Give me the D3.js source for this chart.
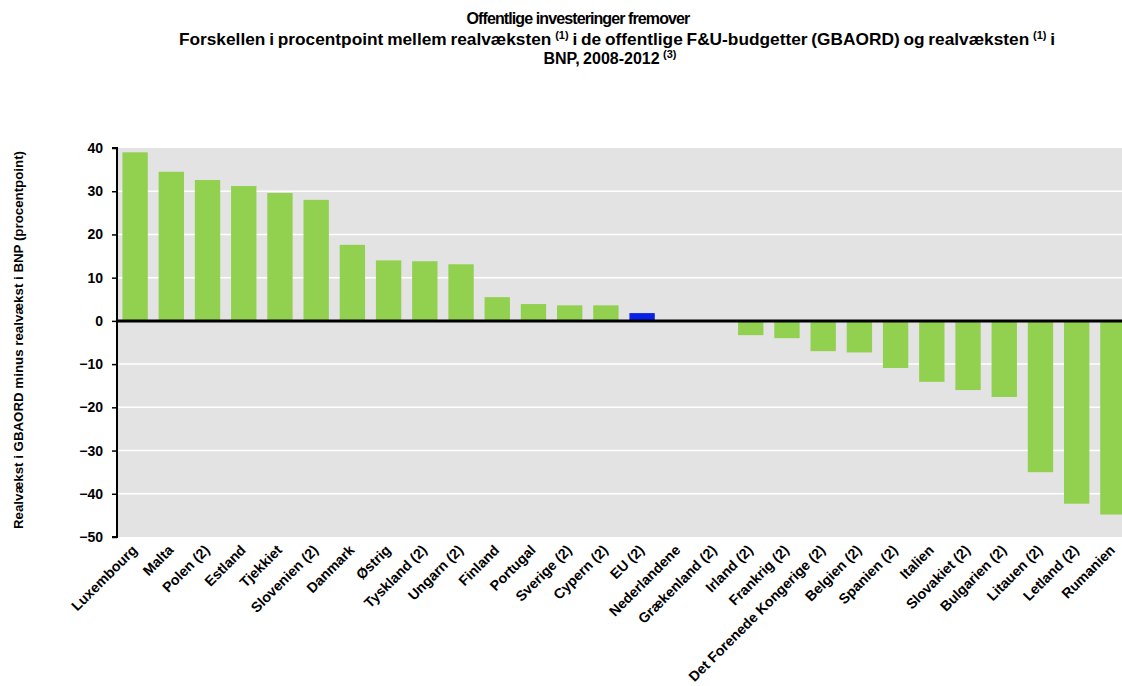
<!DOCTYPE html>
<html><head><meta charset="utf-8">
<script src="https://cdn.jsdelivr.net/npm/d3@7"></script>
<style>body{margin:0;background:#fff;} svg{display:block;font-family:"Liberation Sans",Arial,sans-serif;}</style>
</head><body>
<svg id="c" width="1122" height="686"></svg>
<script>
const categories = ["Luxembourg","Malta","Polen (2)","Estland","Tjekkiet","Slovenien (2)","Danmark","Østrig","Tyskland (2)","Ungarn (2)","Finland","Portugal","Sverige (2)","Cypern (2)","EU (2)","Nederlandene","Grækenland (2)","Irland (2)","Frankrig (2)","Det Forenede Kongerige (2)","Belgien (2)","Spanien (2)","Italien","Slovakiet (2)","Bulgarien (2)","Litauen (2)","Letland (2)","Rumanien"];
const values = [39.0,34.5,32.6,31.2,29.6,28.0,17.6,14.0,13.8,13.1,5.5,3.9,3.6,3.6,1.8,0,0,-3.3,-4.0,-7.0,-7.3,-10.9,-14.1,-16.0,-17.6,-35.0,-42.3,-44.8];
const highlight = ["EU (2)"];
const yTicks = [40,30,20,10,0,-10,-20,-30,-40,-50];

const svg = d3.select("#c");
const m = {left:117, top:148, right:1131, bottom:537};
const x = d3.scaleBand().domain(categories).range([m.left, m.right]).paddingInner(0.3).paddingOuter(0.15);
const y = d3.scaleLinear().domain([-50,40]).range([m.bottom, m.top]);

svg.append("rect").attr("x",m.left).attr("y",m.top).attr("width",m.right-m.left).attr("height",m.bottom-m.top).attr("fill","#e3e3e3");
svg.append("g").selectAll("line").data(yTicks.filter(d=>d!==0 && d!==-50 && d!==40)).join("line")
  .attr("x1",m.left).attr("x2",m.right).attr("y1",d=>y(d)).attr("y2",d=>y(d)).attr("stroke","#fff").attr("stroke-width",1.5);

svg.append("g").selectAll("rect").data(categories).join("rect")
  .attr("x",d=>x(d)).attr("width",x.bandwidth())
  .attr("y",(d,i)=>y(Math.max(0,values[i]))).attr("height",(d,i)=>Math.abs(y(values[i])-y(0)))
  .attr("fill",d=>highlight.includes(d)?"#0a1fe8":"#92d050");

svg.append("line").attr("x1",m.left).attr("x2",m.right).attr("y1",y(0)).attr("y2",y(0)).attr("stroke","#000").attr("stroke-width",3);

const ya = svg.append("g").attr("transform",`translate(${m.left},0)`)
  .call(d3.axisLeft(y).tickValues(yTicks).tickSize(5).tickPadding(9).tickFormat(d3.format("d")));
ya.select(".domain").attr("stroke","#000").attr("stroke-width",2).attr("d",`M-5,${m.top}H0V${m.bottom}H-5`);
ya.selectAll(".tick line").attr("stroke","#000").attr("stroke-width",1.5);
ya.selectAll("text").attr("font-size",14).attr("font-weight","bold").attr("fill","#000").attr("font-family","Liberation Sans, Arial, sans-serif");

const xa = svg.append("g").attr("transform",`translate(0,${m.bottom})`)
  .call(d3.axisBottom(x).tickSize(0).tickPadding(0));
xa.select(".domain").remove();
xa.selectAll("text").attr("font-size",14.2).attr("font-weight","bold").attr("fill","#000")
  .attr("font-family","Liberation Sans, Arial, sans-serif")
  .attr("text-anchor","end").attr("dy",null).attr("y",0)
  .attr("transform","translate(3,14) rotate(-45)");

svg.append("text").attr("transform","translate(23,340) rotate(-90)").attr("text-anchor","middle")
  .attr("font-size",13.3).attr("font-weight","bold").text("Realvækst i GBAORD minus realvækst i BNP (procentpoint)");

const t = svg.append("g").attr("text-anchor","middle").attr("font-weight","bold").attr("font-size",16);
t.append("text").attr("x",578).attr("y",24).attr("letter-spacing","-0.9").text("Offentlige investeringer fremover");
const l2 = t.append("text").attr("x",617).attr("y",45).attr("font-size",17.3).attr("word-spacing","-1");
l2.append("tspan").text("Forskellen i procentpoint mellem realvæksten ");
l2.append("tspan").attr("font-size",11).attr("dy",-6).text("(1)");
l2.append("tspan").attr("dy",6).text(" i de offentlige F&U-budgetter (GBAORD) og realvæksten ");
l2.append("tspan").attr("font-size",11).attr("dy",-6).text("(1)");
l2.append("tspan").attr("dy",6).text(" i");
const l3 = t.append("text").attr("x",610).attr("y",64).attr("word-spacing","-1");
l3.append("tspan").text("BNP, 2008-2012 ");
l3.append("tspan").attr("font-size",11).attr("dy",-6).text("(3)");
</script>
</body></html>
